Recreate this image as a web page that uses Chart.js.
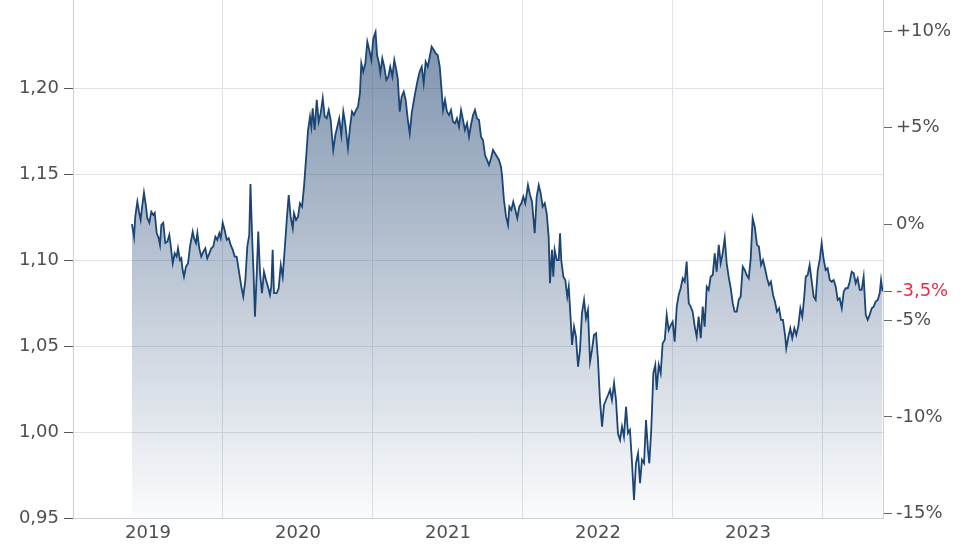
<!DOCTYPE html>
<html>
<head>
<meta charset="utf-8">
<script src="https://cdn.jsdelivr.net/npm/chart.js@4/dist/chart.umd.min.js"></script>
<style>
  html, body { margin: 0; padding: 0; background: #fff; }
  #wrap { width: 975px; height: 555px; position: relative; }
</style>
</head>
<body>
<div id="wrap"><canvas id="chart"></canvas></div>
<script>
// time as decimal years
const years = [
  2019.393,2019.407,2019.415,2019.429,2019.440,2019.451,2019.460,2019.473,2019.487,2019.495,
  2019.509,2019.522,2019.535,2019.545,2019.558,2019.571,2019.580,2019.589,2019.602,2019.615,
  2019.629,2019.642,2019.651,2019.665,2019.678,2019.691,2019.700,2019.713,2019.722,2019.731,
  2019.740,2019.753,2019.767,2019.780,2019.798,2019.807,2019.820,2019.829,2019.842,2019.855,
  2019.869,2019.882,2019.895,2019.909,2019.922,2019.935,2019.949,2019.962,2019.975,2019.985,
  2019.998,2020.011,2020.025,2020.038,2020.051,2020.065,2020.078,2020.091,2020.105,2020.122,
  2020.135,2020.149,2020.162,2020.175,2020.183,2020.195,2020.203,2020.213,2020.225,2020.235,
  2020.247,2020.260,2020.273,2020.287,2020.300,2020.313,2020.322,2020.331,2020.340,2020.358,
  2020.371,2020.385,2020.398,2020.411,2020.425,2020.438,2020.451,2020.465,2020.473,2020.487,
  2020.500,2020.513,2020.527,2020.540,2020.553,2020.567,2020.580,2020.589,2020.598,2020.611,
  2020.625,2020.638,2020.651,2020.665,2020.678,2020.691,2020.705,2020.718,2020.727,2020.735,
  2020.749,2020.762,2020.775,2020.789,2020.802,2020.815,2020.833,2020.847,2020.860,2020.873,
  2020.887,2020.900,2020.913,2020.922,2020.935,2020.949,2020.962,2020.975,2020.989,2021.002,
  2021.017,2021.027,2021.040,2021.049,2021.062,2021.075,2021.089,2021.102,2021.115,2021.129,
  2021.142,2021.151,2021.165,2021.178,2021.191,2021.205,2021.218,2021.231,2021.245,2021.258,
  2021.271,2021.285,2021.298,2021.311,2021.325,2021.338,2021.351,2021.365,2021.378,2021.391,
  2021.405,2021.418,2021.431,2021.445,2021.458,2021.467,2021.480,2021.493,2021.507,2021.520,
  2021.533,2021.547,2021.560,2021.573,2021.587,2021.600,2021.613,2021.627,2021.640,2021.653,
  2021.667,2021.680,2021.693,2021.707,2021.720,2021.733,2021.747,2021.760,2021.773,2021.787,
  2021.800,2021.813,2021.827,2021.840,2021.853,2021.860,2021.873,2021.887,2021.900,2021.909,
  2021.922,2021.935,2021.949,2021.962,2021.975,2021.989,2022.002,2022.015,2022.033,2022.047,
  2022.060,2022.078,2022.091,2022.105,2022.118,2022.131,2022.145,2022.158,2022.171,2022.180,
  2022.193,2022.202,2022.211,2022.225,2022.238,2022.247,2022.255,2022.269,2022.282,2022.295,
  2022.305,2022.318,2022.327,2022.340,2022.353,2022.367,2022.380,2022.393,2022.407,2022.420,
  2022.433,2022.447,2022.460,2022.473,2022.487,2022.500,2022.513,2022.527,2022.540,2022.553,
  2022.567,2022.580,2022.593,2022.607,2022.620,2022.633,2022.647,2022.660,2022.673,2022.687,
  2022.700,2022.713,2022.727,2022.740,2022.753,2022.767,2022.780,2022.793,2022.807,2022.820,
  2022.833,2022.842,2022.855,2022.869,2022.882,2022.891,2022.905,2022.918,2022.931,2022.945,
  2022.958,2022.971,2022.985,2022.998,2023.011,2023.025,2023.038,2023.051,2023.065,2023.078,
  2023.091,2023.105,2023.118,2023.131,2023.145,2023.158,2023.171,2023.185,2023.198,2023.211,
  2023.225,2023.238,2023.251,2023.265,2023.278,2023.291,2023.305,2023.318,2023.331,2023.345,
  2023.358,2023.371,2023.385,2023.398,2023.411,2023.425,2023.438,2023.451,2023.465,2023.478,
  2023.491,2023.505,2023.518,2023.531,2023.545,2023.560,2023.573,2023.587,2023.600,2023.613,
  2023.627,2023.640,2023.653,2023.667,2023.680,2023.693,2023.707,2023.720,2023.733,2023.747,
  2023.755,2023.769,2023.782,2023.795,2023.809,2023.822,2023.835,2023.849,2023.862,2023.875,
  2023.885,2023.898,2023.911,2023.925,2023.938,2023.951,2023.965,2023.978,2023.991,2024.005,
  2024.018,2024.031,2024.045,2024.058,2024.071,2024.085,2024.098,2024.111,2024.125,2024.138,
  2024.151,2024.165,2024.178,2024.191,2024.205,2024.218,2024.231,2024.245,2024.258,2024.271,
  2024.285,2024.298,2024.311,2024.325,2024.338,2024.351,2024.365,2024.378,2024.387,2024.397
];
const rates = [
  1.1209,1.1134,1.1252,1.1339,1.1281,1.1233,1.1303,1.1392,1.1310,1.1245,
  1.1217,1.1281,1.1262,1.1274,1.1157,1.1128,1.1088,1.1204,1.1216,1.1099,
  1.1107,1.1146,1.1088,1.0981,1.1039,1.1020,1.1068,1.1000,1.1010,1.0942,
  1.0903,1.0961,1.0981,1.1078,1.1165,1.1127,1.1098,1.1156,1.1068,1.1020,
  1.1049,1.1068,1.1010,1.1039,1.1068,1.1078,1.1136,1.1117,1.1156,1.1127,
  1.1217,1.1175,1.1117,1.1127,1.1088,1.1059,1.1020,1.1020,1.0942,1.0845,
  1.0787,1.0884,1.1078,1.1146,1.1442,1.1117,1.0942,1.0671,1.0923,1.1165,
  1.0923,1.0807,1.0932,1.0884,1.0845,1.0797,1.0845,1.1059,1.0807,1.0807,
  1.0836,1.0971,1.0903,1.1059,1.1233,1.1378,1.1252,1.1185,1.1272,1.1233,
  1.1252,1.1330,1.1310,1.1427,1.1582,1.1756,1.1834,1.1775,1.1882,1.1756,
  1.1931,1.1804,1.1853,1.1941,1.1834,1.1824,1.1872,1.1814,1.1717,1.1640,
  1.1727,1.1775,1.1824,1.1727,1.1863,1.1795,1.1650,1.1775,1.1863,1.1843,
  1.1872,1.1892,1.1970,1.2144,1.2095,1.2144,1.2270,1.2221,1.2163,1.2289,
  1.2326,1.2192,1.2144,1.2086,1.2173,1.2124,1.2047,1.2066,1.2124,1.2066,
  1.2163,1.2124,1.2057,1.1863,1.1950,1.1979,1.1931,1.1824,1.1737,1.1853,
  1.1921,1.1989,1.2047,1.2095,1.2124,1.2028,1.2153,1.2124,1.2182,1.2241,
  1.2221,1.2202,1.2192,1.2124,1.1979,1.1872,1.1931,1.1863,1.1843,1.1872,
  1.1804,1.1795,1.1824,1.1775,1.1872,1.1814,1.1756,1.1795,1.1717,1.1785,
  1.1843,1.1872,1.1824,1.1814,1.1717,1.1698,1.1611,1.1582,1.1553,1.1592,
  1.1640,1.1621,1.1601,1.1582,1.1543,1.1495,1.1349,1.1252,1.1204,1.1310,
  1.1291,1.1339,1.1291,1.1243,1.1310,1.1330,1.1368,1.1330,1.1436,1.1378,
  1.1339,1.1156,1.1368,1.1436,1.1388,1.1310,1.1330,1.1272,1.1136,1.0865,
  1.1059,1.0903,1.1059,1.1000,1.1000,1.1156,1.1000,1.0903,1.0884,1.0787,
  1.0845,1.0652,1.0506,1.0613,1.0554,1.0380,1.0477,1.0691,1.0768,1.0661,
  1.0710,1.0409,1.0477,1.0564,1.0574,1.0419,1.0186,1.0031,1.0157,1.0186,
  1.0215,1.0245,1.0186,1.0284,1.0186,0.9993,0.9954,1.0031,0.9973,1.0147,
  0.9993,1.0012,0.9818,0.9605,0.9818,0.9876,0.9702,0.9838,0.9818,1.0070,
  0.9896,0.9818,1.0012,1.0342,1.0390,1.0245,1.0390,1.0342,1.0516,1.0535,
  1.0681,1.0593,1.0622,1.0642,1.0525,1.0729,1.0797,1.0836,1.0894,1.0874,
  1.0991,1.0749,1.0729,1.0700,1.0613,1.0554,1.0671,1.0545,1.0729,1.0613,
  1.0845,1.0826,1.0903,1.0913,1.1039,1.0932,1.1088,1.0981,1.1039,1.1127,
  1.0981,1.0903,1.0836,1.0749,1.0700,1.0700,1.0768,1.0787,1.0961,1.0942,
  1.0913,1.0894,1.1010,1.1243,1.1194,1.1088,1.1078,1.0971,1.1000,1.0952,
  1.0894,1.0855,1.0874,1.0797,1.0758,1.0700,1.0720,1.0652,1.0652,1.0564,
  1.0487,1.0554,1.0603,1.0545,1.0603,1.0564,1.0613,1.0720,1.0671,1.0787,
  1.0903,1.0913,1.0971,1.0874,1.0787,1.0768,1.0942,1.1000,1.1098,1.1000,
  1.0942,1.0952,1.0884,1.0874,1.0884,1.0845,1.0768,1.0778,1.0720,1.0816,
  1.0836,1.0836,1.0874,1.0932,1.0923,1.0865,1.0894,1.0826,1.0826,1.0903,
  1.0681,1.0652,1.0681,1.0720,1.0729,1.0758,1.0768,1.0807,1.0884,1.0817
];
const yTicks = [0.95, 1.00, 1.05, 1.10, 1.15, 1.20];
const pctTicks = [-15, -10, -5, 0, 5, 10];
const yearLabels = ['2019', '2020', '2021', '2022', '2023'];

const base = rates[0];
const yMin = 0.95, yMax = 1.2512;
const lastPct = Math.round((rates[rates.length - 1] / base - 1) * 1000) / 10;

const font = { family: 'DejaVu Sans', size: 18 };
const textColor = '#4f4f4f';
const gridColor = '#dfe3e9';
const borderColor = '#cdd2da';

function fillGradient(context) {
  const chart = context.chart;
  const area = chart.chartArea;
  if (!area) return 'rgba(58,88,128,0.3)';
  const g = chart.ctx.createLinearGradient(0, area.top, 0, area.bottom);
  g.addColorStop(0, 'rgba(52,84,126,0.68)');
  g.addColorStop(1, 'rgba(52,84,126,0.02)');
  return g;
}

function fmtPct(v) {
  if (v === 0) return '0%';
  return (v > 0 ? '+' : '') + String(v).replace('.', ',') + '%';
}

// labels sit well inside the axis, so no extra room at the ends
function noPad(scale) {
  scale.paddingTop = 0;
  scale.paddingBottom = 0;
  scale.paddingLeft = 0;
  scale.paddingRight = 0;
}

new Chart(document.getElementById('chart'), {
  type: 'line',
  data: {
    datasets: [{
      data: years.map((t, i) => ({ x: t, y: rates[i] })),
      borderColor: '#1b4574',
      borderWidth: 1.8,
      backgroundColor: fillGradient,
      fill: 'start',
      pointRadius: 0,
      tension: 0,
      yAxisID: 'y'
    }]
  },
  options: {
    responsive: true,
    maintainAspectRatio: false,
    animation: false,
    layout: { padding: 0 },
    plugins: { legend: { display: false }, tooltip: { enabled: false } },
    scales: {
      x: {
        type: 'linear',
        min: 2019,
        max: 2024.4,
        afterBuildTicks: (scale) => {
          const t = [];
          yearLabels.forEach((y, i) => {
            t.push({ value: 2019.5 + i });
            t.push({ value: 2020 + i });
          });
          scale.ticks = t;
        },
        afterFit: (scale) => { scale.height = 37; noPad(scale); },
        grid: {
          color: (ctx) => (ctx.tick && Number.isInteger(ctx.tick.value)) ? gridColor : 'rgba(0,0,0,0)',
          drawTicks: false
        },
        border: { color: borderColor },
        ticks: {
          autoSkip: false,
          maxRotation: 0,
          padding: 5,
          color: textColor,
          font: font,
          callback: (v) => Number.isInteger(v) ? '' : String(Math.floor(v))
        }
      },
      y: {
        position: 'left',
        min: yMin,
        max: yMax,
        afterBuildTicks: (scale) => { scale.ticks = yTicks.map(v => ({ value: v })); },
        afterFit: (scale) => { scale.width = 73; noPad(scale); },
        grid: { color: gridColor, tickColor: '#555', tickLength: 9 },
        border: { color: borderColor },
        ticks: {
          padding: 5,
          color: textColor,
          font: font,
          callback: (v) => v.toFixed(2).replace('.', ',')
        }
      },
      y2: {
        position: 'right',
        min: (yMin / base - 1) * 100,
        max: (yMax / base - 1) * 100,
        afterBuildTicks: (scale) => {
          scale.ticks = pctTicks.concat([lastPct]).sort((a, b) => a - b).map(v => ({ value: v }));
        },
        afterFit: (scale) => { scale.width = 92; noPad(scale); },
        grid: { drawOnChartArea: false, tickColor: '#666', tickLength: 9 },
        border: { color: borderColor },
        ticks: {
          padding: 4,
          font: font,
          color: (ctx) => (ctx.tick && ctx.tick.value === lastPct) ? '#e2304c' : textColor,
          callback: (v) => fmtPct(v)
        }
      }
    }
  }
});
</script>
</body>
</html>
